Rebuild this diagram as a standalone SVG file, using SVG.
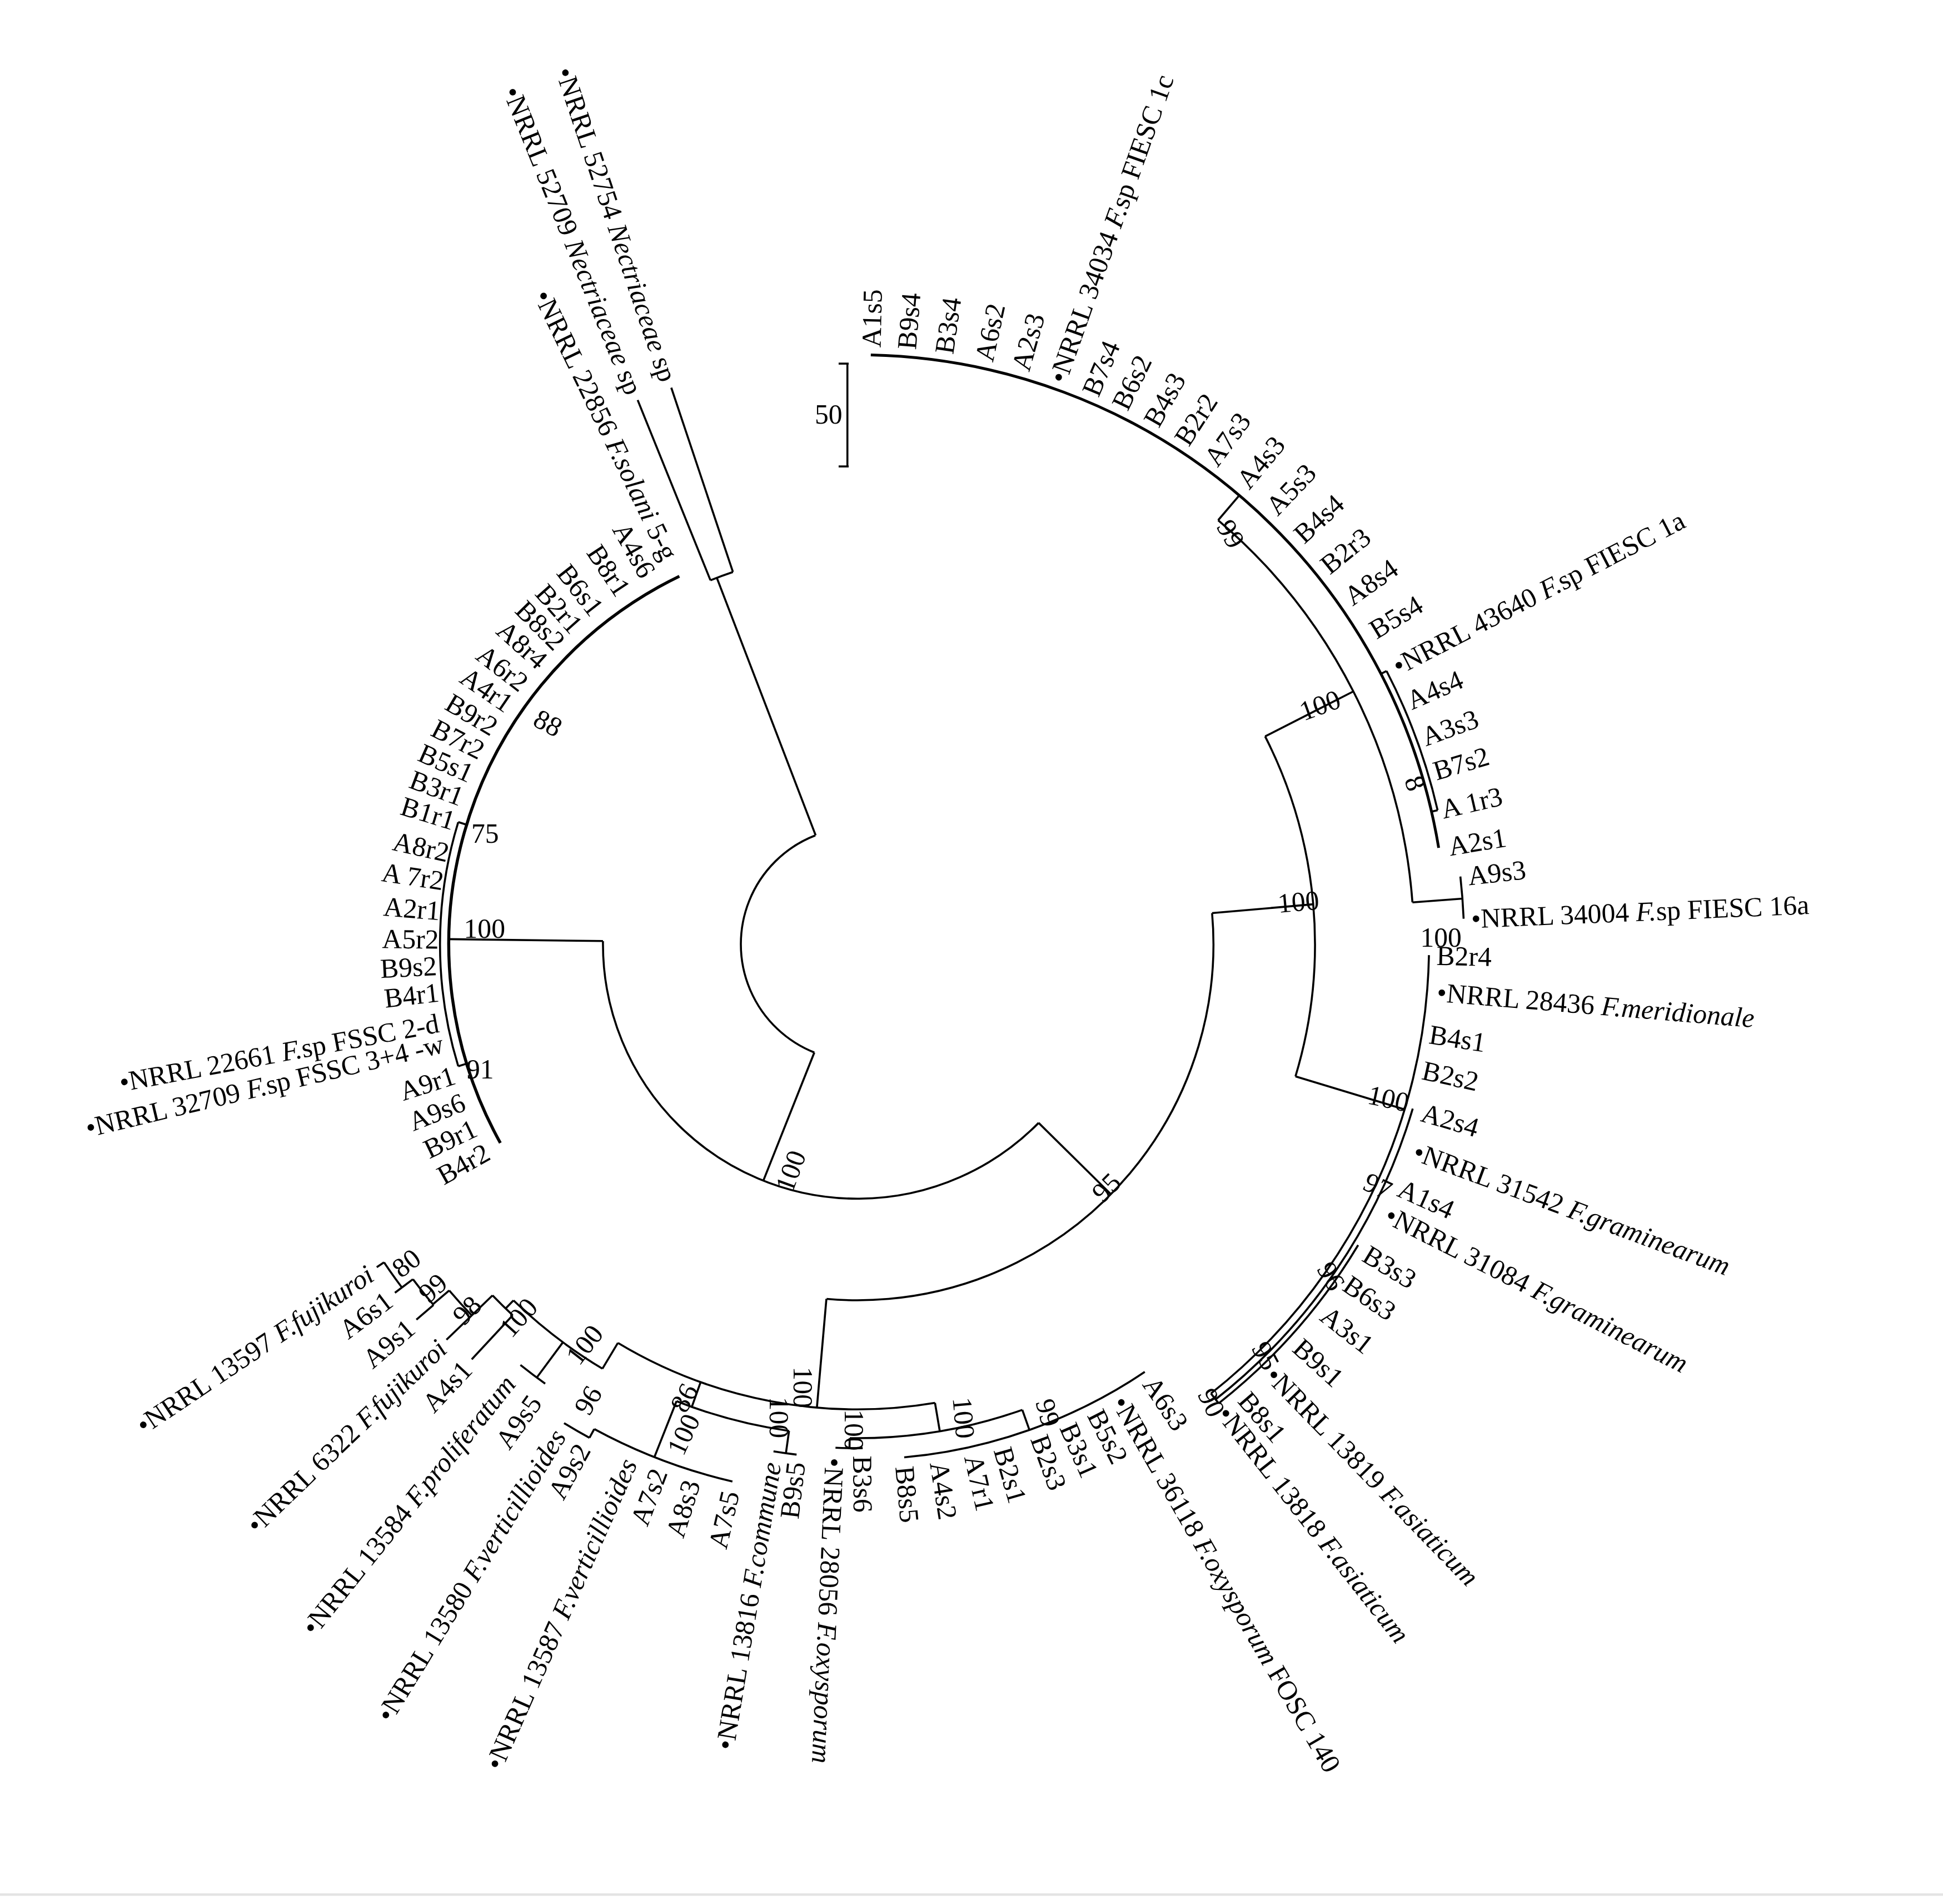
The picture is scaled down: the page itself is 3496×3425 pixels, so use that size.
<svg xmlns="http://www.w3.org/2000/svg" width="3496" height="3425" viewBox="0 0 3496 3425">
<style>
.c line,.c circle{stroke:#000;stroke-width:1.6;fill:none}
text{font-family:"Liberation Serif","Times New Roman",serif;font-size:22px;fill:#000}
.b{font-size:21px}
.i{font-style:italic}
</style>
<rect width="3496" height="3425" fill="#fff"/>
<g transform="scale(2.2555)">
<line x1="0" y1="1511" x2="1550" y2="1511" stroke="#e4e4e4" stroke-width="2"/>
<g id="scalebar"><line x1="676" y1="290" x2="676" y2="372" stroke="#000" stroke-width="1.6"/><line x1="669" y1="290" x2="677" y2="290" stroke="#000" stroke-width="1.6"/><line x1="669" y1="372" x2="677" y2="372" stroke="#000" stroke-width="1.6"/><text x="650" y="338">50</text></g>
<g transform="translate(684,753)">
<g id="connectors" class="c">
<circle r="93" pathLength="360" stroke-dasharray="137.3 800" transform="rotate(111.7)"/>
<line x1="93" x2="313" transform="rotate(249)"/>
<circle r="313" pathLength="360" stroke-dasharray="3.5 800" transform="rotate(248)"/>
<line x1="313" x2="468" transform="rotate(248)"/>
<line x1="313" x2="468" transform="rotate(251.5)"/>
<line x1="93" x2="203" transform="rotate(111.7)"/>
<circle r="203" pathLength="360" stroke-dasharray="136.1 800" transform="rotate(44.6)"/>
<line x1="203" x2="326" transform="rotate(180.7)"/>
<circle r="326" pathLength="360" stroke-dasharray="93.3 800" transform="rotate(150.9)" style="stroke-width:2.4"/>
<circle r="333" pathLength="360" stroke-dasharray="34 800" transform="rotate(163)"/>
<line x1="326" x2="333" transform="rotate(163)"/>
<line x1="326" x2="333" transform="rotate(197)"/>
<line x1="203" x2="284" transform="rotate(44.6)"/>
<circle r="284" pathLength="360" stroke-dasharray="100 800" transform="rotate(-5)"/>
<line x1="284" x2="365" transform="rotate(-5)"/>
<circle r="365" pathLength="360" stroke-dasharray="43.8 800" transform="rotate(-27)"/>
<line x1="365" x2="444" transform="rotate(-27)"/>
<circle r="444" pathLength="360" stroke-dasharray="45.3 800" transform="rotate(-49.6)"/>
<line x1="444" x2="470" transform="rotate(-49.6)"/>
<circle r="470" pathLength="360" stroke-dasharray="79.3 800" transform="rotate(-88.7)" style="stroke-width:2.2"/>
<circle r="475" pathLength="360" stroke-dasharray="14.3 800" transform="rotate(-27.3)"/>
<line x1="470" x2="475" transform="rotate(-27.3)"/>
<line x1="470" x2="475" transform="rotate(-13)"/>
<line x1="444" x2="484" transform="rotate(-4.3)"/>
<circle r="484" pathLength="360" stroke-dasharray="4 800" transform="rotate(-6.4)"/>
<line x1="365" x2="456" transform="rotate(16.8)"/>
<circle r="456" pathLength="360" stroke-dasharray="50.7 800" transform="rotate(1.1)"/>
<circle r="462" pathLength="360" stroke-dasharray="35.3 800" transform="rotate(16.5)"/>
<circle r="466" pathLength="360" stroke-dasharray="20.8 800" transform="rotate(31)"/>
<line x1="456" x2="466" transform="rotate(51.8)"/>
<line x1="284" x2="371" transform="rotate(95)"/>
<circle r="371" pathLength="360" stroke-dasharray="40.6 800" transform="rotate(80.4)"/>
<line x1="371" x2="394" transform="rotate(80.4)"/>
<circle r="394" pathLength="360" stroke-dasharray="20.4 800" transform="rotate(70.5)"/>
<line x1="394" x2="402" transform="rotate(90.9)"/>
<circle r="402" pathLength="360" stroke-dasharray="3.1 800" transform="rotate(89.4)"/>
<line x1="394" x2="411" transform="rotate(70.5)"/>
<circle r="411" pathLength="360" stroke-dasharray="28.7 800" transform="rotate(56.1)"/>
<line x1="371" x2="392" transform="rotate(109.7)"/>
<circle r="392" pathLength="360" stroke-dasharray="13.6 800" transform="rotate(98)"/>
<line x1="392" x2="410" transform="rotate(98)"/>
<circle r="410" pathLength="360" stroke-dasharray="2.6 800" transform="rotate(96.8)"/>
<line x1="392" x2="440" transform="rotate(111.6)"/>
<circle r="440" pathLength="360" stroke-dasharray="15.4 800" transform="rotate(103.1)"/>
<line x1="440" x2="448" transform="rotate(118.5)"/>
<circle r="448" pathLength="360" stroke-dasharray="3 800" transform="rotate(118.5)"/>
<line x1="371" x2="395" transform="rotate(121)"/>
<circle r="395" pathLength="360" stroke-dasharray="13 800" transform="rotate(121)"/>
<line x1="395" x2="430" transform="rotate(126.5)"/>
<circle r="430" pathLength="360" stroke-dasharray="3.3 800" transform="rotate(125.4)"/>
<line x1="395" x2="404" transform="rotate(134)"/>
<circle r="404" pathLength="360" stroke-dasharray="3.2 800" transform="rotate(132.9)"/>
<line x1="404" x2="452" transform="rotate(132.9)"/>
<line x1="404" x2="427" transform="rotate(136.1)"/>
<circle r="427" pathLength="360" stroke-dasharray="3.6 800" transform="rotate(136.1)"/>
<line x1="427" x2="455" transform="rotate(136.1)"/>
<line x1="427" x2="444" transform="rotate(139.7)"/>
<circle r="444" pathLength="360" stroke-dasharray="3.4 800" transform="rotate(139.6)"/>
<line x1="444" x2="462" transform="rotate(139.6)"/>
<line x1="444" x2="455" transform="rotate(143)"/>
<circle r="455" pathLength="360" stroke-dasharray="3.1 800" transform="rotate(143)"/>
<line x1="455" x2="462" transform="rotate(143)"/>
<line x1="455" x2="462" transform="rotate(146.1)"/>
</g>
<g id="top">
<g id="A1s5"><text x="476" dy=".35em" transform="rotate(-88.7)">A1s5</text></g>
<g id="B9s4"><text x="476" dy=".35em" transform="rotate(-85.3)">B9s4</text></g>
<g id="B3s4"><text x="476" dy=".35em" transform="rotate(-81.7)">B3s4</text></g>
<g id="A6s2"><text x="476" dy=".35em" transform="rotate(-77.8)">A6s2</text></g>
<g id="A2s3"><text x="476" dy=".35em" transform="rotate(-74.2)">A2s3</text></g>
<g id="N34034"><text x="476" dy=".35em" transform="rotate(-70.5)">•NRRL 34034 <tspan class="i">F.</tspan>sp FIESC 1c</text></g>
<g id="B7s4"><text x="476" dy=".35em" transform="rotate(-67.1)">B7s4</text></g>
<g id="B6s2"><text x="476" dy=".35em" transform="rotate(-64)">B6s2</text></g>
<g id="B4s3"><text x="476" dy=".35em" transform="rotate(-60.6)">B4s3</text></g>
<g id="B2r2"><text x="476" dy=".35em" transform="rotate(-57.2)">B2r2</text></g>
<g id="A7s3"><text x="476" dy=".35em" transform="rotate(-53.8)">A7s3</text></g>
<g id="A4s3"><text x="478" dy=".35em" transform="rotate(-50.1)">A4s3</text></g>
<g id="A5s3"><text x="478" dy=".35em" transform="rotate(-46.4)">A5s3</text></g>
<g id="B4s4"><text x="478" dy=".35em" transform="rotate(-42.7)">B4s4</text></g>
<g id="B2r3"><text x="478" dy=".35em" transform="rotate(-38.9)">B2r3</text></g>
<g id="A8s4"><text x="478" dy=".35em" transform="rotate(-35.2)">A8s4</text></g>
<g id="B5s4"><text x="480" dy=".35em" transform="rotate(-31.3)">B5s4</text></g>
<g id="N43640"><text x="482" dy=".35em" transform="rotate(-27.3)">•NRRL 43640 <tspan class="i">F.</tspan>sp FIESC 1a</text></g>
<g id="A4s4"><text x="480" dy=".35em" transform="rotate(-23.8)">A4s4</text></g>
<g id="A3s3"><text x="480" dy=".35em" transform="rotate(-20.1)">A3s3</text></g>
<g id="B7s2"><text x="480" dy=".35em" transform="rotate(-16.7)">B7s2</text></g>
<g id="A1r3"><text x="478" dy=".35em" transform="rotate(-13)">A 1r3</text></g>
<g id="A2s1"><text x="478" dy=".35em" transform="rotate(-9.4)">A2s1</text></g>
<g id="A9s3"><text x="490" dy=".35em" transform="rotate(-6.4)">A9s3</text></g>
<g id="N34004"><text x="490" dy=".35em" transform="rotate(-2.4)">•NRRL 34004 <tspan class="i">F.</tspan>sp FIESC 16a</text></g>
</g>
<g id="right">
<g id="B2r4"><text x="462" dy=".35em" transform="rotate(1.1)">B2r4</text></g>
<g id="N28436"><text x="464" dy=".35em" transform="rotate(4.7)">•NRRL 28436 <tspan class="i">F.meridionale</tspan></text></g>
<g id="B4s1"><text x="462" dy=".35em" transform="rotate(8.9)">B4s1</text></g>
<g id="B2s2"><text x="462" dy=".35em" transform="rotate(12.5)">B2s2</text></g>
<g id="A2s4"><text x="470" dy=".35em" transform="rotate(16.5)">A2s4</text></g>
<g id="N31542"><text x="474" dy=".35em" transform="rotate(20.3)">•NRRL 31542 <tspan class="i">F.graminearum</tspan></text></g>
<g id="A1s4"><text x="474" dy=".35em" transform="rotate(24.1)">A1s4</text></g>
<g id="N31084"><text x="474" dy=".35em" transform="rotate(26.9)">•NRRL 31084 <tspan class="i">F.graminearum</tspan></text></g>
<g id="B3s3"><text x="474" dy=".35em" transform="rotate(31.2)">B3s3</text></g>
<g id="B6s3"><text x="474" dy=".35em" transform="rotate(34.6)">B6s3</text></g>
<g id="A3s1"><text x="474" dy=".35em" transform="rotate(38.2)">A3s1</text></g>
<g id="B9s1"><text x="474" dy=".35em" transform="rotate(42.2)">B9s1</text></g>
<g id="N13819"><text x="474" dy=".35em" transform="rotate(45.9)">•NRRL 13819 <tspan class="i">F.asiaticum</tspan></text></g>
<g id="B8s1"><text x="474" dy=".35em" transform="rotate(49.4)">B8s1</text></g>
<g id="N13818"><text x="472" dy=".35em" transform="rotate(51.8)">•NRRL 13818 <tspan class="i">F.asiaticum</tspan></text></g>
</g>
<g id="bottom">
<g id="A6s3"><text x="418" dy=".35em" transform="rotate(56.1)">A6s3</text></g>
<g id="N36118"><text x="418" dy=".35em" transform="rotate(60)">•NRRL 36118 <tspan class="i">F.oxysporum</tspan> FOSC 140</text></g>
<g id="B5s2"><text x="418" dy=".35em" transform="rotate(63)">B5s2</text></g>
<g id="B3s1"><text x="418" dy=".35em" transform="rotate(66.3)">B3s1</text></g>
<g id="B2s3"><text x="418" dy=".35em" transform="rotate(69.7)">B2s3</text></g>
<g id="B2s1"><text x="418" dy=".35em" transform="rotate(73.9)">B2s1</text></g>
<g id="A7r1"><text x="418" dy=".35em" transform="rotate(77.2)">A7r1</text></g>
<g id="A4s2"><text x="418" dy=".35em" transform="rotate(81)">A4s2</text></g>
<g id="B8s5"><text x="418" dy=".35em" transform="rotate(84.8)">B8s5</text></g>
<g id="B3s6"><text x="408" dy=".35em" transform="rotate(89.4)">B3s6</text></g>
<g id="N28056"><text x="410" dy=".35em" transform="rotate(92.5)">•NRRL 28056 <tspan class="i">F.oxysporum</tspan></text></g>
<g id="B9s5"><text text-anchor="end" dy=".35em" transform="rotate(96.8) translate(416,0) rotate(180)">B9s5</text></g>
<g id="N13816"><text text-anchor="end" dy=".35em" transform="rotate(99.4) translate(419,0) rotate(180)">•NRRL 13816 <tspan class="i">F.commune</tspan></text></g>
<g id="A7s5"><text text-anchor="end" dy=".35em" transform="rotate(103.1) translate(448,0) rotate(180)">A7s5</text></g>
<g id="A8s3"><text text-anchor="end" dy=".35em" transform="rotate(107.2) translate(448,0) rotate(180)">A8s3</text></g>
<g id="A7s2"><text text-anchor="end" dy=".35em" transform="rotate(110.7) translate(448,0) rotate(180)">A7s2</text></g>
<g id="N13587"><text text-anchor="end" dy=".35em" transform="rotate(113.9) translate(450,0) rotate(180)">•NRRL 13587 <tspan class="i">F.verticillioides</tspan></text></g>
<g id="A9s2"><text text-anchor="end" dy=".35em" transform="rotate(118.7) translate(456,0) rotate(180)">A9s2</text></g>
<g id="N13580"><text text-anchor="end" dy=".35em" transform="rotate(121.5) translate(456,0) rotate(180)">•NRRL 13580 <tspan class="i">F.verticillioides</tspan></text></g>
<g id="A9s5"><text text-anchor="end" dy=".35em" transform="rotate(125.4) translate(444,0) rotate(180)">A9s5</text></g>
<g id="N13584"><text text-anchor="end" dy=".35em" transform="rotate(128.7) translate(444,0) rotate(180)">•NRRL 13584 <tspan class="i">F.proliferatum</tspan></text></g>
<g id="A4s1"><text text-anchor="end" dy=".35em" transform="rotate(132.9) translate(458,0) rotate(180)">A4s1</text></g>
<g id="N6322"><text text-anchor="end" dy=".35em" transform="rotate(136.1) translate(460,0) rotate(180)">•NRRL 6322 <tspan class="i">F.fujikuroi</tspan></text></g>
<g id="A9s1"><text text-anchor="end" dy=".35em" transform="rotate(139.6) translate(468,0) rotate(180)">A9s1</text></g>
<g id="A6s1"><text text-anchor="end" dy=".35em" transform="rotate(143) translate(468,0) rotate(180)">A6s1</text></g>
<g id="N13597"><text text-anchor="end" dy=".35em" transform="rotate(146.1) translate(468,0) rotate(180)">•NRRL 13597 <tspan class="i">F.fujikuroi</tspan></text></g>
</g>
<g id="left">
<g id="B4r2"><text text-anchor="end" dy=".35em" transform="rotate(150.9) translate(338,0) rotate(180)">B4r2</text></g>
<g id="B9r1"><text text-anchor="end" dy=".35em" transform="rotate(154.5) translate(338,0) rotate(180)">B9r1</text></g>
<g id="A9s6"><text text-anchor="end" dy=".35em" transform="rotate(158.3) translate(338,0) rotate(180)">A9s6</text></g>
<g id="A9r1"><text text-anchor="end" dy=".35em" transform="rotate(162.1) translate(338,0) rotate(180)">A9r1</text></g>
<g id="N32709"><text text-anchor="end" dy=".35em" transform="rotate(166.6) translate(340,0) rotate(180)">•NRRL 32709 <tspan class="i">F.</tspan>sp FSSC 3+4 -w</text></g>
<g id="N22661"><text text-anchor="end" dy=".35em" transform="rotate(169.4) translate(340,0) rotate(180)">•NRRL 22661 <tspan class="i">F.</tspan>sp FSSC 2-d</text></g>
<g id="B4r1"><text text-anchor="end" dy=".35em" transform="rotate(173.5) translate(336,0) rotate(180)">B4r1</text></g>
<g id="B9s2"><text text-anchor="end" dy=".35em" transform="rotate(177.1) translate(336,0) rotate(180)">B9s2</text></g>
<g id="A5r2"><text text-anchor="end" dy=".35em" transform="rotate(180.7) translate(334,0) rotate(180)">A5r2</text></g>
<g id="A2r1"><text text-anchor="end" dy=".35em" transform="rotate(184.6) translate(334,0) rotate(180)">A2r1</text></g>
<g id="A7r2"><text text-anchor="end" dy=".35em" transform="rotate(188.7) translate(334,0) rotate(180)">A 7r2</text></g>
<g id="A8r2"><text text-anchor="end" dy=".35em" transform="rotate(192.6) translate(334,0) rotate(180)">A8r2</text></g>
<g id="B1r1"><text text-anchor="end" dy=".35em" transform="rotate(197) translate(336,0) rotate(180)">B1r1</text></g>
<g id="B3r1"><text text-anchor="end" dy=".35em" transform="rotate(200.4) translate(336,0) rotate(180)">B3r1</text></g>
<g id="B5s1"><text text-anchor="end" dy=".35em" transform="rotate(203.8) translate(336,0) rotate(180)">B5s1</text></g>
<g id="B7r2"><text text-anchor="end" dy=".35em" transform="rotate(207.2) translate(336,0) rotate(180)">B7r2</text></g>
<g id="B9r2"><text text-anchor="end" dy=".35em" transform="rotate(210.8) translate(336,0) rotate(180)">B9r2</text></g>
<g id="A4r1"><text text-anchor="end" dy=".35em" transform="rotate(214.5) translate(336,0) rotate(180)">A4r1</text></g>
<g id="A6r2"><text text-anchor="end" dy=".35em" transform="rotate(217.9) translate(336,0) rotate(180)">A6r2</text></g>
<g id="A8r4"><text text-anchor="end" dy=".35em" transform="rotate(221.8) translate(336,0) rotate(180)">A8r4</text></g>
<g id="B8s2"><text text-anchor="end" dy=".35em" transform="rotate(225.2) translate(336,0) rotate(180)">B8s2</text></g>
<g id="B2r1"><text text-anchor="end" dy=".35em" transform="rotate(228.4) translate(336,0) rotate(180)">B2r1</text></g>
<g id="B6s1"><text text-anchor="end" dy=".35em" transform="rotate(232) translate(336,0) rotate(180)">B6s1</text></g>
<g id="B8r1"><text text-anchor="end" dy=".35em" transform="rotate(236.4) translate(336,0) rotate(180)">B8r1</text></g>
<g id="A4s6"><text text-anchor="end" dy=".35em" transform="rotate(240.5) translate(338,0) rotate(180)">A4s6</text></g>
<g id="N22856"><text text-anchor="end" dy=".35em" transform="rotate(244.2) translate(342,0) rotate(180)">•NRRL 22856 <tspan class="i">F.solani</tspan> 5-g</text></g>
<g id="N52709"><text text-anchor="end" dy=".35em" transform="rotate(248) translate(474,0) rotate(180)">•NRRL 52709 <tspan class="i">Nectriaceae</tspan> sp</text></g>
<g id="N52754"><text text-anchor="end" dy=".35em" transform="rotate(251.5) translate(474,0) rotate(180)">•NRRL 52754 <tspan class="i">Nectriaceae</tspan> sp</text></g>
</g>
</g>
<g id="bootstrap" class="b">
<text transform="translate(970,420) rotate(60)">99</text>
<text transform="translate(1040,575) rotate(-20)">100</text>
<text transform="translate(1120,622) rotate(70)">8</text>
<text transform="translate(1020,728) rotate(-5)">100</text>
<text transform="translate(1133,755)">100</text>
<text transform="translate(1090,880) rotate(12)">100</text>
<text transform="translate(1086,948) rotate(25)">97</text>
<text transform="translate(1050,1012) rotate(60)">96</text>
<text transform="translate(998,1075) rotate(62)">95</text>
<text transform="translate(955,1112) rotate(64)">90</text>
<text transform="translate(826,1118) rotate(75)">99</text>
<text transform="translate(760,1115) rotate(85)">100</text>
<text transform="translate(674,1124) rotate(90)">100</text>
<text transform="translate(633,1090) rotate(90)">100</text>
<text transform="translate(614,1114) rotate(90)">100</text>
<text transform="translate(547,1128) rotate(-62)">86</text>
<text transform="translate(545,1162) rotate(-65)">100</text>
<text transform="translate(470,1130) rotate(-60)">96</text>
<text transform="translate(462,1090) rotate(-52)">100</text>
<text transform="translate(408,1068) rotate(-48)">100</text>
<text transform="translate(370,1058) rotate(-45)">98</text>
<text transform="translate(342,1040) rotate(-42)">99</text>
<text transform="translate(320,1020) rotate(-38)">80</text>
<text transform="translate(370,748)">100</text>
<text transform="translate(376,672)">75</text>
<text transform="translate(372,860)">91</text>
<text transform="translate(424,578) rotate(28)">88</text>
<text transform="translate(632,952) rotate(-70)">100</text>
<text transform="translate(880,960) rotate(-45)">95</text>
</g>
</g>
</svg>
